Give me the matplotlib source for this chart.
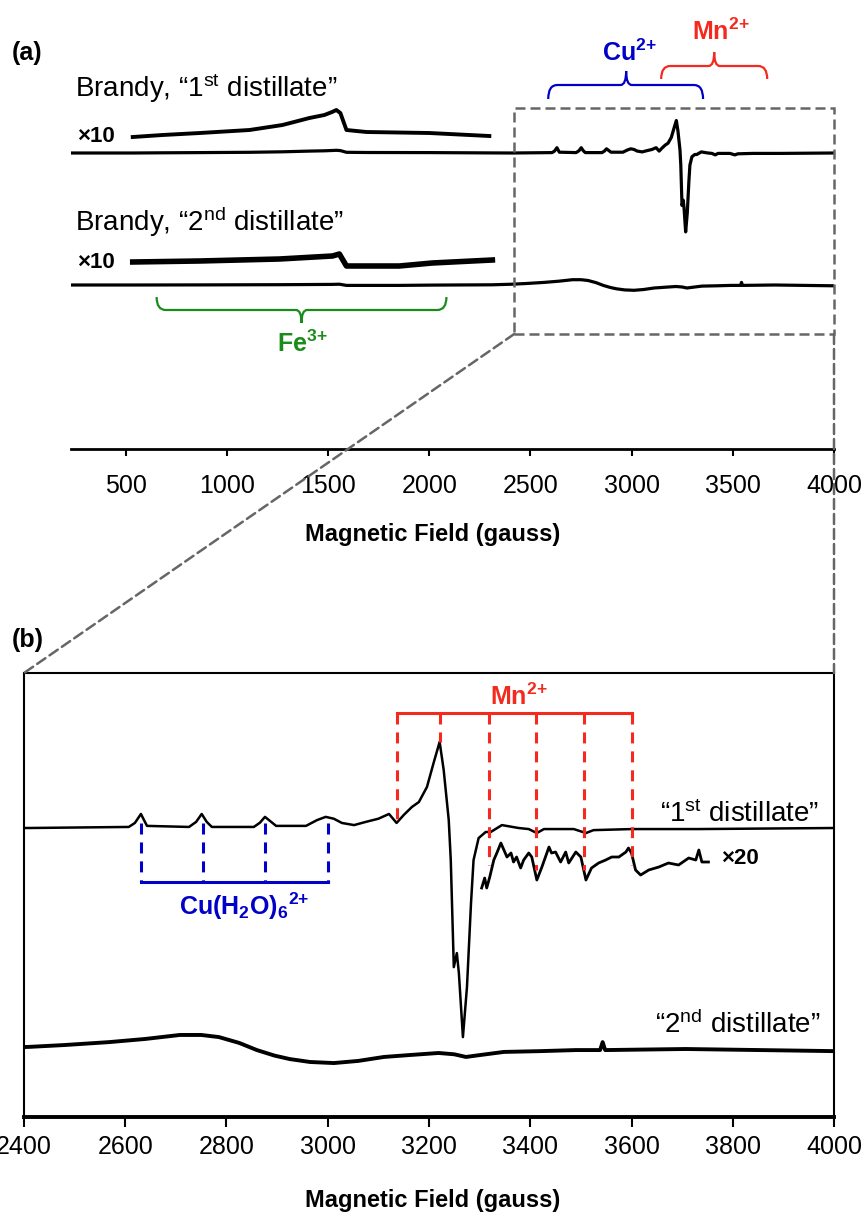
import numpy as np
import matplotlib
matplotlib.use("Agg")
from matplotlib import pyplot as plt
from matplotlib.path import Path
from matplotlib.patches import PathPatch, Rectangle, ConnectionPatch

plt.rcParams["font.family"] = ["Liberation Sans", "DejaVu Sans"]
plt.rcParams["mathtext.fontset"] = "custom"
plt.rcParams["mathtext.rm"] = "Liberation Sans"
plt.rcParams["mathtext.bf"] = "Liberation Sans:bold"
plt.rcParams["mathtext.it"] = "Liberation Sans:italic"

# EPR spectra; field in gauss, signal in arbitrary units
first_field = [230, 535, 683, 867, 1112, 1275, 1408, 1482, 1520, 1541, 1561,
               1591, 1690, 2000, 2297,
               2410, 2607, 2619, 2631, 2637, 2643, 2726, 2740, 2751, 2761, 2771,
               2854, 2866, 2876, 2887, 2898, 2957, 2979, 2996, 3012, 3028, 3052,
               3075, 3100, 3121, 3136, 3150, 3166, 3180, 3196, 3209, 3221, 3229,
               3239, 3243, 3249, 3255, 3259, 3267, 3275, 3283, 3288, 3298, 3312,
               3322, 3344, 3377, 3397, 3413, 3427, 3486, 3510, 3525, 3600, 3733,
               4000]
first_signal = [0, 0, 0.2, 0.4, 0.7, 1.2, 1.9, 2.2, 2.5, 2.7, 2.4,
                0.7, 0.5, 0.4, 0.1,
                0, 0.4, 1.9, 5.3, 3.0, 0.8, 0.4, 2.3, 5.3, 2.3, 0.4,
                0.4, 2.0, 4.2, 2.5, 0.8, 0.8, 3.0, 4.2, 3.5, 1.9, 1.1,
                2.3, 3.5, 5.3, 1.9, 4.9, 7.9, 9.8, 15.5, 24.5, 32.5, 21.9,
                3.0, -12.1, -52.5, -47.2, -54.7, -78.9, -60.0, -28.3, -12.1, -3.8, -1.5,
                -1.5, 1.1, 0, -0.4, -1.9, -0.4, -0.4, -1.9, -0.8, -0.4, -0.4,
                0]

second_field = [230, 535, 865, 1260, 1522, 1556, 1591, 1852, 2015, 2312,
                2410, 2480, 2568, 2640, 2708, 2750, 2785, 2825, 2860, 2895,
                2925, 2965, 3012, 3060, 3111, 3160, 3219, 3250, 3273, 3300,
                3348, 3420, 3490, 3538, 3543, 3548, 3707, 4000]
second_signal = [0, 0, 0.1, 0.3, 0.6, 0.8, -0.4, -0.4, -0.1, 0.2,
                 0.8, 1.5, 2.6, 3.8, 5.3, 5.3, 4.5, 2.3, -0.4, -2.5,
                 -3.8, -4.9, -5.3, -4.5, -3.0, -2.3, -1.5, -2.0, -3.0, -2.3,
                 -1.1, -0.8, -0.4, -0.4, 2.6, -0.4, 0, -0.8]

# x20 expansion of the Mn2+ region, 1st distillate (panel b units)
x20_field = [3304, 3310, 3314, 3320, 3328, 3334, 3342, 3348, 3354, 3362, 3367,
             3373, 3381, 3387, 3397, 3403, 3413, 3423, 3437, 3442, 3450, 3460,
             3470, 3476, 3490, 3500, 3510, 3521, 3535, 3549, 3561, 3575, 3589,
             3594, 3600, 3608, 3618, 3634, 3654, 3673, 3693, 3713, 3727, 3733,
             3739, 3752]
x20_signal = [-28, -18, -28, -17, 0, 7, 17, 10, 3, 7, -2,
              3, -8, 0, 7, 3, -20, -7, 13, 7, 8, -2,
              8, -3, 8, 3, -20, -8, -3, 0, 3, 3, 8,
              12, 7, -10, -15, -10, -7, -3, -5, 2, 0, 10,
              -2, -2]

cu_lines = [2631, 2753, 2876, 3000]
mn_lines = [3136, 3222, 3318, 3411, 3506, 3600]

ticks_a = np.arange(500, 4001, 500)
ticks_b = np.arange(2400, 4001, 200)

BLUE = "#0000c8"
RED = "#f52a1e"
GREEN = "#1a8c1a"
GRAY = "#666666"
B_SCALE = 2.65


def brace(ax, x0, x1, xm, y_end, y_line, y_tip, r, rt, color):
    verts = [(x0, y_end), (x0, y_line), (x0 + r, y_line),
             (xm - rt, y_line), (xm, y_line), (xm, y_tip),
             (xm, y_line), (xm + rt, y_line),
             (x1 - r, y_line), (x1, y_line), (x1, y_end)]
    codes = [Path.MOVETO, Path.CURVE3, Path.CURVE3,
             Path.LINETO, Path.CURVE3, Path.CURVE3,
             Path.CURVE3, Path.CURVE3,
             Path.LINETO, Path.CURVE3, Path.CURVE3]
    ax.add_patch(PathPatch(Path(verts, codes), fill=False, ec=color,
                           lw=1.6, clip_on=False))


f1 = np.asarray(first_field, dtype=float)
s1 = np.asarray(first_signal, dtype=float)
f2 = np.asarray(second_field, dtype=float)
s2 = np.asarray(second_signal, dtype=float)

fig = plt.figure(figsize=(8.62, 12.16), dpi=100)
ax_a = fig.add_axes([0.08237, 0.63076, 0.88515, 0.35279])
ax_b = fig.add_axes([0.02784, 0.08141, 0.93968, 0.36513])

# ---------------- panel (a) ----------------
lo1 = (f1 >= 535) & (f1 <= 2300)
lo2 = (f2 >= 535) & (f2 <= 2312)
ax_a.plot(f1, s1 + 296, color="black", lw=2.3)
ax_a.plot(f1[lo1], s1[lo1] * 10 + 312, color="black", lw=2.8)
ax_a.plot(f2, s2 + 164, color="black", lw=2.3)
ax_a.plot(f2[lo2], s2[lo2] * 10 + 187, color="black", lw=4.0)

ax_a.text(250, 352, "Brandy, \u201c1$^{\\mathrm{st}}$ distillate\u201d", fontsize=20)
ax_a.text(250, 218, "Brandy, \u201c2$^{\\mathrm{nd}}$ distillate\u201d", fontsize=20)
ax_a.text(262, 307, "\u00d710", fontsize=16, fontweight="bold")
ax_a.text(262, 181, "\u00d710", fontsize=16, fontweight="bold")

brace(ax_a, 2588, 3353, 2973, 350, 364, 378, 45, 28, BLUE)
brace(ax_a, 3146, 3670, 3408, 370, 383, 397, 45, 28, RED)
brace(ax_a, 653, 2085, 1369, 152, 139, 126, 45, 28, GREEN)
ax_a.text(2990, 388, "Cu$^{\\mathbf{2{+}}}$", color=BLUE, fontsize=18,
          fontweight="bold", ha="center")
ax_a.text(3440, 409, "Mn$^{\\mathbf{2{+}}}$", color=RED, fontsize=18,
          fontweight="bold", ha="center")
ax_a.text(1371, 97, "Fe$^{\\mathbf{3{+}}}$", color=GREEN, fontsize=18,
          fontweight="bold", ha="center")

ax_a.add_patch(Rectangle((2420, 115), 1580, 226, fill=False, ec=GRAY,
                         lw=1.8, ls=(0, (4, 2)), clip_on=False, zorder=3))

ax_a.set_xlim(230, 4000)
ax_a.set_ylim(0, 429)
for side in ["top", "left", "right"]:
    ax_a.spines[side].set_visible(False)
ax_a.spines["bottom"].set_linewidth(2.0)
ax_a.set_yticks([])
ax_a.set_xticks(ticks_a)
ax_a.tick_params(axis="x", direction="out", length=5, width=1.5,
                 labelsize=18, pad=13)
ax_a.set_xlabel("Magnetic Field (gauss)", fontsize=17, fontweight="bold")
ax_a.xaxis.set_label_coords(0.474, -0.2)
ax_a.xaxis.label.set_va("center")

# ---------------- panel (b) ----------------
ax_b.plot(f1, s1 * B_SCALE + 289, color="black", lw=1.8)
ax_b.plot(x20_field, np.asarray(x20_signal) + 257, color="black", lw=2.0)
ax_b.plot(f2, s2 * B_SCALE + 68, color="black", lw=2.8)

mn_bottom = [294, 375, 252, 247, 247, 252]
for x, yb in zip(mn_lines, mn_bottom):
    ax_b.plot([x, x], [404, yb], color=RED, lw=2.2, ls=(0, (3.6, 2.6)))
ax_b.plot([mn_lines[0], mn_lines[-1]], [404, 404], color=RED, lw=2.2)
ax_b.text(3377, 412, "Mn$^{\\mathbf{2{+}}}$", color=RED, fontsize=18,
          fontweight="bold", ha="center")

for x in cu_lines:
    ax_b.plot([x, x], [294, 235], color=BLUE, lw=2.2, ls=(0, (3.6, 2.6)))
ax_b.plot([cu_lines[0], cu_lines[-1]], [235, 235], color=BLUE, lw=2.2)
ax_b.text(2834, 202, "Cu(H$_{\\mathbf{2}}$O)$_{\\mathbf{6}}$$^{\\mathbf{2{+}}}$",
          color=BLUE, fontsize=18, fontweight="bold", ha="center")

ax_b.text(3970, 295, "\u201c1$^{\\mathrm{st}}$ distillate\u201d", fontsize=20, ha="right")
ax_b.text(3973, 84, "\u201c2$^{\\mathrm{nd}}$ distillate\u201d", fontsize=20, ha="right")
ax_b.text(3776, 259, "\u00d720", fontsize=16, fontweight="bold", va="center")

ax_b.set_xlim(2400, 4000)
ax_b.set_ylim(0, 444)
for side in ["top", "left", "right"]:
    ax_b.spines[side].set_linewidth(1.5)
ax_b.spines["bottom"].set_linewidth(2.8)
ax_b.set_yticks([])
ax_b.set_xticks(ticks_b)
ax_b.tick_params(axis="x", direction="out", length=7, width=1.5,
                 labelsize=18, pad=6)
ax_b.set_xlabel("Magnetic Field (gauss)", fontsize=17, fontweight="bold")
ax_b.xaxis.set_label_coords(0.505, -0.187)
ax_b.xaxis.label.set_va("center")

# zoom connectors
for xa, xb in [(2420, 0), (4000, 1)]:
    con = ConnectionPatch(xyA=(xa, 115), coordsA=ax_a.transData,
                          xyB=(xb, 1), coordsB=ax_b.transAxes,
                          color=GRAY, lw=1.8, ls=(0, (4, 2)))
    fig.add_artist(con)

fig.text(12 / 862, 1 - 53 / 1216, "(a)", fontsize=18, fontweight="bold", va="center")
fig.text(12 / 862, 1 - 640 / 1216, "(b)", fontsize=18, fontweight="bold", va="center")

fig.savefig("out.png", dpi=100)
